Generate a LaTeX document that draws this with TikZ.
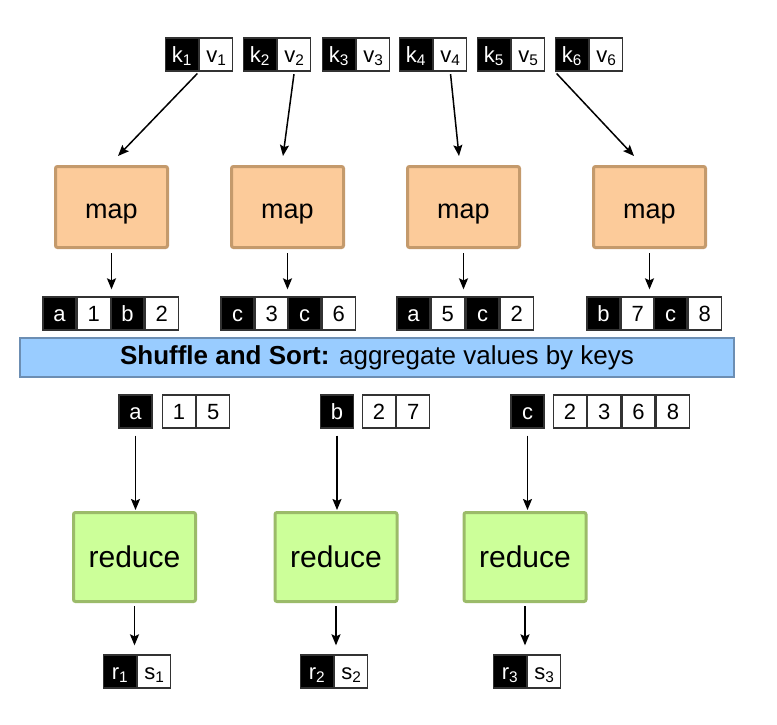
\documentclass[tikz,border=0pt]{standalone}
\usepackage{fontspec}
\setmainfont{Liberation Sans}
\usetikzlibrary{positioning,arrows.meta}

\definecolor{mapfill}{RGB}{252,203,154}
\definecolor{mapedge}{RGB}{196,154,108}
\definecolor{redfill}{RGB}{204,255,153}
\definecolor{rededge}{RGB}{155,187,105}
\definecolor{barfill}{RGB}{153,204,255}
\definecolor{baredge}{RGB}{108,142,179}
\definecolor{celledge}{RGB}{50,50,50}

\begin{document}
\begin{tikzpicture}[x=1pt,y=-1pt,
    cell/.style={draw=celledge,line width=1.3pt,minimum width=33pt,minimum height=33pt,
      inner sep=0pt,text height=16.5pt,text depth=1.2pt,font=\fontsize{22}{26}\selectfont},
    kcell/.style={cell,fill=black,text=white},
    vcell/.style={cell,fill=white,text=black},
    mapbox/.style={draw=mapedge,fill=mapfill,line width=3pt,rounded corners=2pt,
      minimum width=112pt,minimum height=81pt,text height=22pt,text depth=0pt,
      font=\fontsize{27}{30}\selectfont},
    redbox/.style={draw=rededge,fill=redfill,line width=3pt,rounded corners=2pt,
      minimum width=122pt,minimum height=89pt,text depth=0pt,font=\fontsize{30}{34}\selectfont},
    arr/.style={-{Stealth[length=11pt,width=9pt,inset=2pt]},line width=1.5pt}]
  \useasboundingbox (0,0) rectangle (777,725);

  % input pairs
  \node[kcell] (k1) at (182,54.5) {k\textsubscript{1}};
  \node[vcell,right=0pt of k1] (v1) {v\textsubscript{1}};
  \node[kcell] (k2) at (260,54.5) {k\textsubscript{2}};
  \node[vcell,right=0pt of k2] (v2) {v\textsubscript{2}};
  \node[kcell] (k3) at (339,54.5) {k\textsubscript{3}};
  \node[vcell,right=0pt of k3] (v3) {v\textsubscript{3}};
  \node[kcell] (k4) at (416,54.5) {k\textsubscript{4}};
  \node[vcell,right=0pt of k4] (v4) {v\textsubscript{4}};
  \node[kcell] (k5) at (494,54.5) {k\textsubscript{5}};
  \node[vcell,right=0pt of k5] (v5) {v\textsubscript{5}};
  \node[kcell] (k6) at (572,54.5) {k\textsubscript{6}};
  \node[vcell,right=0pt of k6] (v6) {v\textsubscript{6}};

  % mappers
  \node[mapbox] (map1) at (111.5,207) {map};
  \node[mapbox] (map2) at (287.5,207) {map};
  \node[mapbox] (map3) at (463.5,207) {map};
  \node[mapbox] (map4) at (649.5,207) {map};

  \draw[arr,shorten <=2.5pt] (k1.south east) -- ([xshift=6.5pt,yshift=9pt]map1.north);
  \draw[arr,shorten <=2.5pt] (v2.south) -- ([xshift=-4.5pt,yshift=9pt]map2.north);
  \draw[arr,shorten <=2.5pt] (v4.south) -- ([xshift=-4.5pt,yshift=9pt]map3.north);
  \draw[arr,shorten <=2.5pt] (k6.south west) -- ([xshift=-15.5pt,yshift=9pt]map4.north);

  % intermediate pairs
  \node[kcell] (p1k) at (59.5,313.5) {a};
  \node[vcell,right=0pt of p1k] (p1v) {1};
  \node[kcell] (p2k) at (127.5,313.5) {b};
  \node[vcell,right=0pt of p2k] (p2v) {2};
  \node[kcell] (p3k) at (237.5,313.5) {c};
  \node[vcell,right=0pt of p3k] (p3v) {3};
  \node[kcell] (p4k) at (304.5,313.5) {c};
  \node[vcell,right=0pt of p4k] (p4v) {6};
  \node[kcell] (p5k) at (413.5,313.5) {a};
  \node[vcell,right=0pt of p5k] (p5v) {5};
  \node[kcell] (p6k) at (482.5,313.5) {c};
  \node[vcell,right=0pt of p6k] (p6v) {2};
  \node[kcell] (p7k) at (603.5,313.5) {b};
  \node[vcell,right=0pt of p7k] (p7v) {7};
  \node[kcell] (p8k) at (670.5,313.5) {c};
  \node[vcell,right=0pt of p8k] (p8v) {8};

  \draw[arr,shorten <=4pt,shorten >=7pt] (map1.south) -- (map1.south |- p2k.north);
  \draw[arr,shorten <=4pt,shorten >=7pt] (map2.south) -- (map2.south |- p4k.north);
  \draw[arr,shorten <=4pt,shorten >=7pt] (map3.south) -- (map3.south |- p6k.north);
  \draw[arr,shorten <=4pt,shorten >=7pt] (map4.south) -- (map4.south |- p8k.north);

  % shuffle bar
  \node[draw=baredge,fill=barfill,line width=2pt,minimum width=714pt,minimum height=39pt,
    font=\fontsize{26}{29}\selectfont] (sort) at (377,357.5)
    {\textbf{Shuffle and Sort:} aggregate values by keys};

  % grouped values
  \node[kcell] (ga) at (135.5,411.5) {a};
  \node[vcell] (ga1) at (179,411.5) {1};
  \node[vcell,right=0pt of ga1] (ga2) {5};
  \node[kcell] (gb) at (337,411.5) {b};
  \node[vcell] (gb1) at (379,411.5) {2};
  \node[vcell,right=0pt of gb1] (gb2) {7};
  \node[kcell] (gc) at (527.5,411.5) {c};
  \node[vcell] (gc1) at (570,411.5) {2};
  \node[vcell,right=0pt of gc1] (gc2) {3};
  \node[vcell,right=0pt of gc2] (gc3) {6};
  \node[vcell,right=0pt of gc3] (gc4) {8};

  % reducers
  \node[redbox] (red1) at (134.5,557) {reduce};
  \node[redbox] (red2) at (336,557) {reduce};
  \node[redbox] (red3) at (525,557) {reduce};

  \draw[arr,shorten <=7pt,shorten >=1pt] (ga.south) -- (ga.south |- red1.north);
  \draw[arr,shorten <=7pt,shorten >=1pt] (gb.south) -- (gb.south |- red2.north);
  \draw[arr,shorten <=7pt,shorten >=1pt] (gc.south) -- (gc.south |- red3.north);

  % output pairs
  \node[kcell] (r1) at (120,671.5) {r\textsubscript{1}};
  \node[vcell,right=0pt of r1] (s1) {s\textsubscript{1}};
  \node[kcell] (r2) at (317,671.5) {r\textsubscript{2}};
  \node[vcell,right=0pt of r2] (s2) {s\textsubscript{2}};
  \node[kcell] (r3) at (510,671.5) {r\textsubscript{3}};
  \node[vcell,right=0pt of r3] (s3) {s\textsubscript{3}};

  \draw[arr,shorten <=3pt,shorten >=9pt] (red1.south) -- (red1.south |- r1.north);
  \draw[arr,shorten <=3pt,shorten >=9pt] (red2.south) -- (red2.south |- r2.north);
  \draw[arr,shorten <=3pt,shorten >=9pt] (red3.south) -- (red3.south |- r3.north);
\end{tikzpicture}
\end{document}
